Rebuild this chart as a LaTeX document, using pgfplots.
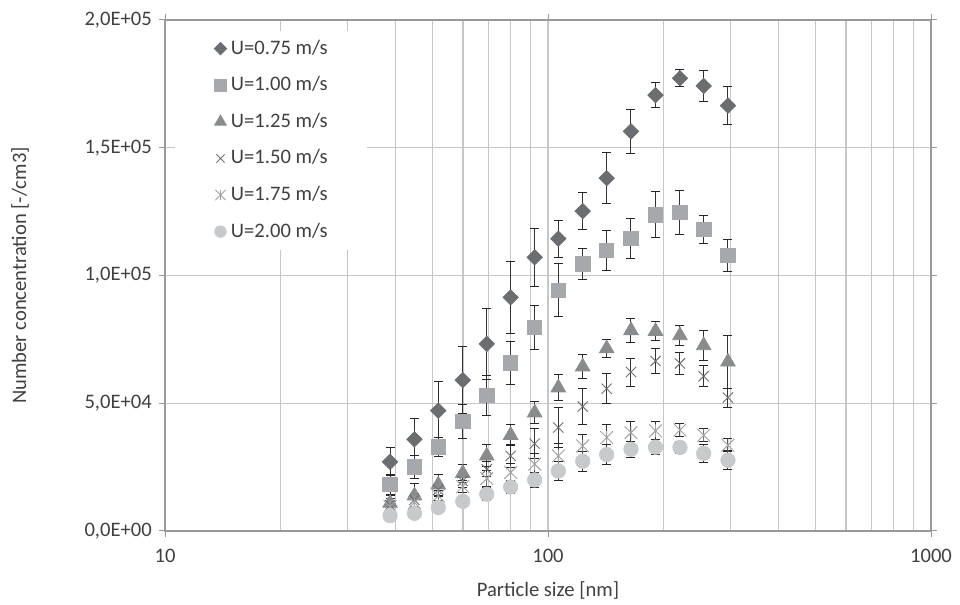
\documentclass[border=0pt]{standalone}
\usepackage{pgfplots}
\pgfplotsset{compat=1.18}
\usepackage{fontspec}
\setmainfont{Carlito}
\definecolor{cA}{RGB}{108,109,112}
\definecolor{cB}{RGB}{167,168,171}
\definecolor{cC}{RGB}{138,139,141}
\definecolor{cD}{RGB}{110,111,113}
\definecolor{cE}{RGB}{160,161,164}
\definecolor{cF}{RGB}{200,201,203}
\definecolor{txt}{RGB}{64,64,64}
\pgfdeclareplotmark{xstar}{%
  \pgfpathmoveto{\pgfqpoint{-\pgfplotmarksize}{-\pgfplotmarksize}}%
  \pgfpathlineto{\pgfqpoint{\pgfplotmarksize}{\pgfplotmarksize}}%
  \pgfpathmoveto{\pgfqpoint{-\pgfplotmarksize}{\pgfplotmarksize}}%
  \pgfpathlineto{\pgfqpoint{\pgfplotmarksize}{-\pgfplotmarksize}}%
  \pgfpathmoveto{\pgfqpoint{0pt}{-\pgfplotmarksize}}%
  \pgfpathlineto{\pgfqpoint{0pt}{\pgfplotmarksize}}%
  \pgfusepathqstroke}
\pgfplotstableread{
x y e
38.7 27050 5500
44.8 35900 8300
51.7 47100 11300
59.9 59050 13000
69.2 73260 14000
79.9 91450 14000
92.3 107100 11400
106.4 114400 7200
123.2 125200 7300
142.3 138100 9900
164.7 156400 8600
190.9 170600 4900
221.1 177200 3300
255.0 174200 6000
295.1 166500 7400
}\sA
\pgfplotstableread{
x y e
38.7 18300 4000
44.8 25100 4500
51.7 32900 3700
59.9 42900 6600
69.2 53100 7800
79.9 65800 8400
92.3 79600 8700
106.4 94200 10300
123.2 104500 6000
142.3 109900 7800
164.7 114500 7800
190.9 123700 9000
221.1 124600 8700
255.0 118000 5600
295.1 107800 6400
}\sB
\pgfplotstableread{
x y e
38.7 10900 3000
44.8 13800 4900
51.7 18100 4100
59.9 22600 3600
69.2 29400 4300
79.9 37500 4000
92.3 46300 4300
106.4 56100 5200
123.2 64300 4700
142.3 71400 3500
164.7 78500 4800
190.9 78200 3800
221.1 76500 4000
255.0 72600 5800
295.1 66200 10300
}\sC
\pgfplotstableread{
x y e
38.7 10100 2500
44.8 12200 2500
51.7 16100 2500
59.9 19600 2500
69.2 24200 3000
79.9 29400 4600
92.3 34200 6000
106.4 40500 8000
123.2 48700 7000
142.3 55700 5800
164.7 62200 5500
190.9 66500 4800
221.1 65600 4200
255.0 60600 4000
295.1 52200 3700
}\sD
\pgfplotstableread{
x y e
38.7 9600 2000
44.8 11200 2000
51.7 13800 2000
59.9 17400 2500
69.2 20500 3000
79.9 22900 3500
92.3 26200 4000
106.4 29400 5000
123.2 33300 4500
142.3 36600 5000
164.7 38500 4500
190.9 39200 3500
221.1 39500 2600
255.0 37500 2600
295.1 33600 2600
}\sE
\pgfplotstableread{
x y e
38.7 6000 1500
44.8 6900 1500
51.7 9200 2000
59.9 11600 2000
69.2 14400 2500
79.9 17200 2500
92.3 20000 3000
106.4 23500 3700
123.2 27300 4000
142.3 29900 4000
164.7 32000 3200
190.9 32800 3000
221.1 32700 2500
255.0 30400 3400
295.1 27700 3800
}\sF
\begin{document}
\fontsize{10.3}{12.4}\selectfont
\begin{tikzpicture}
\path[use as bounding box] (-82.5pt,-37pt) rectangle (397.5pt,265.5pt);
\begin{axis}[
  scale only axis, width=383pt, height=255.5pt,
  xmode=log, log basis x=10, xmin=10, xmax=1000,
  ymin=0, ymax=200000,
  xtick={10,100,1000}, xticklabels={10,100,1000},
  minor xtick={20,30,40,50,60,70,80,90,200,300,400,500,600,700,800,900},
  ytick={0,50000,100000,150000,200000},
  yticklabels={{0,0E+00},{5,0E+04},{1,0E+05},{1,5E+05},{2,0E+05}},
  scaled y ticks=false,
  tick align=outside, major tick length=3pt, minor tick length=0pt,
  tick style={draw=black!40, line width=0.5pt},
  xmajorgrids, xminorgrids, ymajorgrids,
  grid style={draw=black!22, line width=0.6pt},
  minor grid style={draw=black!22, line width=0.6pt},
  axis line style={draw=black!40, line width=0.6pt},
  tick label style={text=txt, font=\fontsize{10.3}{12.4}\selectfont},
  xticklabel style={yshift=-2.5pt},
  label style={text=txt, font=\fontsize{10.3}{12.4}\selectfont},
  xlabel={Particle size [nm]},
  ylabel={Number concentration [-/cm3]},
  xlabel style={at={(axis description cs:0.5,0)}, anchor=center, yshift=-29.5pt},
  ylabel style={at={(axis description cs:0,0.5)}, anchor=center, rotate=0, yshift=72.5pt},
  legend cell align=left,
  legend image code/.code={\draw[#1, every mark/.append style={scale=0.8}] plot coordinates {(0pt,0pt)};},
  legend style={at={(axis description cs:0.013,0.98)}, anchor=north west,
    draw=none, fill=white, inner xsep=19.5pt, inner ysep=4.5pt,
    row sep=9.3pt, text=txt,
    nodes={inner sep=0pt, text height=7.2pt, text depth=1.8pt},
    /tikz/every odd column/.append style={column sep=2.2pt},
    font=\fontsize{10.3}{12.4}\selectfont},
  error bars/y dir=both, error bars/y explicit,
  error bars/error bar style={draw=black!80, line width=0.5pt},
  error bars/error mark options={rotate=90, draw=black!85, line width=0.5pt, mark size=2.25pt},
]
\addplot[only marks, mark=square*, mark options={rotate=45, fill=cA, draw=cA}, mark size=2.7pt]
  table[x=x, y=y, y error=e] {\sA};
\addlegendentry{U=0.75 m/s}
\addplot[only marks, mark=square*, mark options={fill=cB, draw=cB}, mark size=3.6pt]
  table[x=x, y=y, y error=e] {\sB};
\addlegendentry{U=1.00 m/s}
\addplot[only marks, mark=triangle*, mark options={fill=cC, draw=cC}, mark size=4.2pt]
  table[x=x, y=y, y error=e] {\sC};
\addlegendentry{U=1.25 m/s}
\addplot[only marks, mark=x, mark options={draw=cD, line width=0.45pt}, mark size=3.6pt]
  table[x=x, y=y, y error=e] {\sD};
\addlegendentry{U=1.50 m/s}
\addplot[only marks, mark=xstar, mark options={draw=cE, line width=0.45pt}, mark size=3.2pt]
  table[x=x, y=y, y error=e] {\sE};
\addlegendentry{U=1.75 m/s}
\addplot[only marks, mark=*, mark options={fill=cF, draw=cF}, mark size=3.6pt]
  table[x=x, y=y, y error=e] {\sF};
\addlegendentry{U=2.00 m/s}
\end{axis}
\end{tikzpicture}
\end{document}
